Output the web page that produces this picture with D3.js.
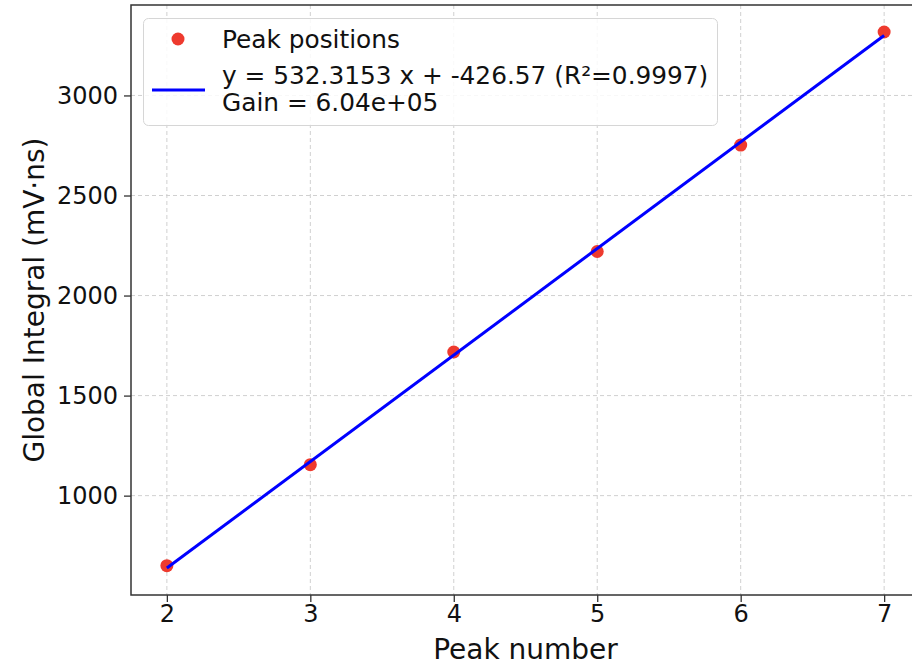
<!DOCTYPE html>
<html>
<head>
<meta charset="utf-8">
<script src="https://cdn.jsdelivr.net/npm/d3@7"></script>
<style>
  html, body { margin: 0; padding: 0; background: #fff; }
  svg { display: block; font-family: "DejaVu Sans", sans-serif; }
</style>
</head>
<body>
<svg id="chart" width="912" height="669"></svg>
<script>
// ---- data ----
const peakNumbers = [2, 3, 4, 5, 6, 7];
const peakIntegrals = [650, 1155, 1718, 2220, 2752, 3317];
const fitSlope = 532.3153;
const fitIntercept = -426.57;
const xTicks = [2, 3, 4, 5, 6, 7];
const yTicks = [1000, 1500, 2000, 2500, 3000];
const xLabel = "Peak number";
const yLabel = "Global Integral (mV\u00b7ns)";
const legendPoints = "Peak positions";
const legendFit1 = "y = 532.3153 x + -426.57 (R\u00b2=0.9997)";
const legendFit2 = "Gain = 6.04e+05";

// ---- layout ----
const svg = d3.select("#chart");
const L = 131, R = 920, T = 5, B = 595;

const x = d3.scaleLinear().domain([1.75, 7.25]).range([L, R]);
const y = d3.scaleLinear().domain([503.5, 3452]).range([B, T]);

// grid
const grid = svg.append("g").attr("stroke", "#d0d0d0").attr("stroke-width", 1).attr("stroke-dasharray", "4,3");
grid.selectAll(".gx").data(xTicks).enter().append("line")
  .attr("x1", d => x(d)).attr("x2", d => x(d)).attr("y1", T).attr("y2", B);
grid.selectAll(".gy").data(yTicks).enter().append("line")
  .attr("y1", d => y(d)).attr("y2", d => y(d)).attr("x1", L).attr("x2", R);

// points
svg.append("g").selectAll("circle").data(peakNumbers).enter().append("circle")
  .attr("cx", d => x(d)).attr("cy", (d, i) => y(peakIntegrals[i]))
  .attr("r", 6.5).attr("fill", "#ee3a2e");

// fit line
const fitData = [d3.min(peakNumbers), d3.max(peakNumbers)].map(v => [v, fitSlope * v + fitIntercept]);
svg.append("path")
  .datum(fitData)
  .attr("d", d3.line().x(d => x(d[0])).y(d => y(d[1])))
  .attr("stroke", "#0000ff").attr("stroke-width", 3).attr("fill", "none");

// axes
const xAxis = d3.axisBottom(x).tickValues(xTicks).tickFormat(d3.format("d")).tickSize(7).tickPadding(6);
const yAxis = d3.axisLeft(y).tickValues(yTicks).tickFormat(d3.format("d")).tickSize(7).tickPadding(6);
const gx = svg.append("g").attr("transform", `translate(0,${B})`).call(xAxis);
const gy = svg.append("g").attr("transform", `translate(${L},0)`).call(yAxis);
[gx, gy].forEach(g => {
  g.select(".domain").remove();
  g.selectAll(".tick line").attr("stroke", "#333").attr("stroke-width", 1.3);
  g.selectAll(".tick text").attr("fill", "#111").style("font-size", "24px").style("font-family", "DejaVu Sans");
});
gx.selectAll(".tick text").attr("y", 10);

// spines
svg.append("rect").attr("x", L).attr("y", T).attr("width", R - L).attr("height", B - T)
  .attr("fill", "none").attr("stroke", "#333").attr("stroke-width", 1.5);

// axis labels
svg.append("text").attr("x", (L + R) / 2).attr("y", 659).attr("text-anchor", "middle")
  .style("font-size", "28px").attr("fill", "#111").text(xLabel);
svg.append("text").attr("transform", `translate(44,${(T + B) / 2}) rotate(-90)`).attr("text-anchor", "middle")
  .style("font-size", "28px").attr("fill", "#111").text(yLabel);

// legend
const lg = svg.append("g");
lg.append("rect").attr("x", 143.5).attr("y", 18.5).attr("width", 574).attr("height", 107).attr("rx", 5)
  .attr("fill", "#fff").attr("fill-opacity", 0.85).attr("stroke", "#d6d6d6").attr("stroke-width", 1);
lg.append("circle").attr("cx", 178).attr("cy", 39).attr("r", 6.5).attr("fill", "#ee3a2e");
lg.append("line").attr("x1", 152).attr("x2", 205).attr("y1", 90).attr("y2", 90)
  .attr("stroke", "#0000ff").attr("stroke-width", 3);
lg.append("text").attr("x", 222).attr("y", 48).style("font-size", "24.8px").attr("fill", "#111").text(legendPoints);
lg.append("text").attr("x", 222).attr("y", 84).style("font-size", "24.8px").attr("fill", "#111").text(legendFit1);
lg.append("text").attr("x", 222).attr("y", 111).style("font-size", "24.8px").attr("fill", "#111").text(legendFit2);
</script>
</body>
</html>
